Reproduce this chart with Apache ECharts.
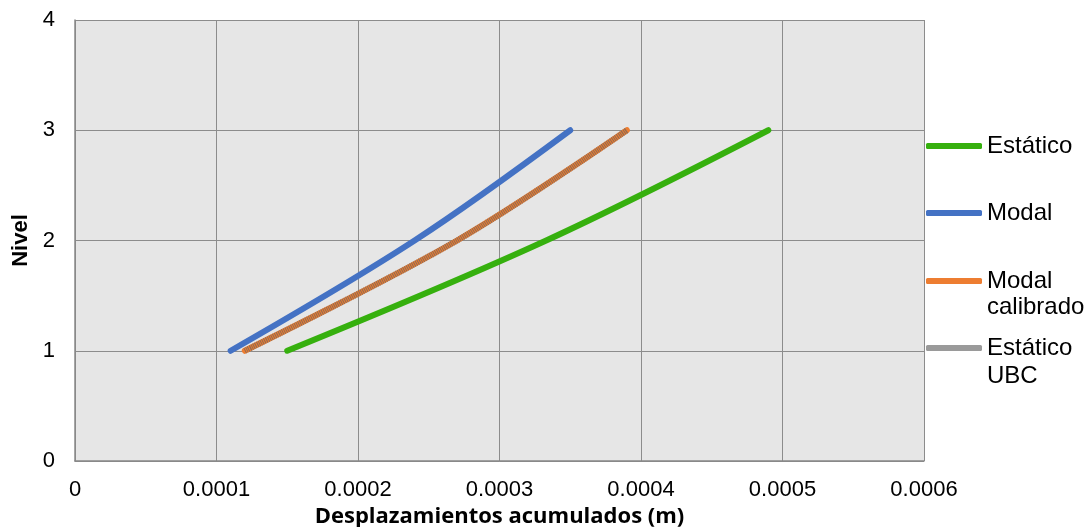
<!DOCTYPE html>
<html><head><meta charset="utf-8">
<script src="https://cdn.jsdelivr.net/npm/echarts@6/dist/echarts.min.js"></script>
<style>html,body{margin:0;padding:0;background:#fff}#c{width:1089px;height:527px}</style>
</head><body><div id="c"></div>
<script>
const levels = [1, 2, 3];
const estatico = [0.00015, 0.000333, 0.00049];
const modal = [0.00011, 0.00024, 0.00035];
const modalCalibrado = [0.00012, 0.00027, 0.00039];
const estaticoUBC = [0.00012, 0.00027, 0.00039];
const xTickLabels = ['0', '0.0001', '0.0002', '0.0003', '0.0004', '0.0005', '0.0006'];
const yTickLabels = ['0', '1', '2', '3', '4'];
const seriesNames = ['Estático', 'Modal', 'Modal calibrado', 'Estático UBC'];
const legendLabels = ['Estático', 'Modal', '\nModal\ncalibrado', '\nEstático\nUBC'];

const pairs = arr => arr.map((v, i) => [v, levels[i]]);
const font = 'Liberation Sans, Arial, sans-serif';
const titleFont = 'Open Sans, sans-serif';
const chart = echarts.init(document.getElementById('c'), null, {renderer: 'canvas'});

function mkLegend(idx, top, lh) {
  return {
    data: [seriesNames[idx]], left: 926, top: top, orient: 'vertical',
    itemWidth: 56, itemHeight: 6, itemGap: 0, padding: 0,
    icon: 'roundRect', selectedMode: false,
    formatter: () => legendLabels[idx],
    textStyle: {fontFamily: font, fontSize: 24, color: '#000', lineHeight: lh},
    itemStyle: {borderWidth: 0}
  };
}

chart.setOption({
  animation: false,
  backgroundColor: '#fff',
  grid: {left: 75, right: 165, top: 20, bottom: 66, show: true, backgroundColor: '#e6e6e6',
    borderWidth: 0, containLabel: false, outerBoundsMode: 'none'},
  xAxis: {
    type: 'value', min: 0, max: 0.0006, interval: 0.0001,
    name: 'Desplazamientos acumulados (m)', nameLocation: 'middle', nameGap: 39,
    nameTextStyle: {fontFamily: titleFont, fontSize: 22, fontWeight: 'bold', color: '#000'},
    axisLine: {show: true, lineStyle: {color: '#888', width: 1.5}},
    axisTick: {show: false},
    axisLabel: {fontFamily: font, fontSize: 22, color: '#000', margin: 18,
      formatter: (v) => xTickLabels[Math.round(v / 0.0001)]},
    splitLine: {show: true, lineStyle: {color: '#8c8c8c', width: 1}}
  },
  yAxis: {
    type: 'value', min: 0, max: 4, interval: 1,
    name: 'Nivel', nameLocation: 'middle', nameGap: 41, nameRotate: 90,
    nameTextStyle: {fontFamily: font, fontSize: 22, fontWeight: 'bold', color: '#000'},
    axisLine: {show: true, lineStyle: {color: '#888', width: 1.5}},
    axisTick: {show: false},
    axisLabel: {fontFamily: font, fontSize: 22, color: '#000', margin: 20,
      formatter: (v) => yTickLabels[Math.round(v)]},
    splitLine: {show: true, lineStyle: {color: '#8c8c8c', width: 1}}
  },
  legend: [
    mkLegend(0, 132.5, 27),
    mkLegend(1, 199.5, 27),
    mkLegend(2, 242, 26),
    mkLegend(3, 306, 28)
  ],
  series: [
    {name: seriesNames[0], type: 'line', data: pairs(estatico), smooth: 0.35, showSymbol: false,
      color: '#36b00e', lineStyle: {width: 6, color: '#36b00e', cap: 'round'}},
    {name: seriesNames[1], type: 'line', data: pairs(modal), smooth: 0.35, showSymbol: false,
      color: '#4472c4', lineStyle: {width: 6, color: '#4472c4', cap: 'round'}},
    {name: seriesNames[2], type: 'line', data: pairs(modalCalibrado), smooth: 0.35, showSymbol: false,
      color: '#ed7d31', lineStyle: {width: 6, color: '#ed7d31', cap: 'round'}},
    {name: seriesNames[3], type: 'line', data: pairs(estaticoUBC), smooth: 0.35, showSymbol: false,
      color: '#9a9a9a', lineStyle: {width: 6, color: 'rgba(100,100,100,0.7)', type: [1, 1], cap: 'butt'}}
  ]
});
</script></body></html>
